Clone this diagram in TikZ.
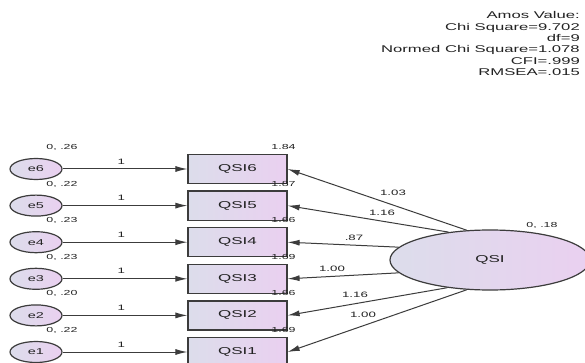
\documentclass[tikz,border=0pt]{standalone}
\usepackage{fontspec}
\usetikzlibrary{shapes.geometric,arrows.meta}
\newfontfamily\wf[FakeStretch=1.7]{Liberation Sans}
\definecolor{edge}{HTML}{3C3C3C}
\definecolor{txt}{HTML}{222222}
\definecolor{fillL}{HTML}{DCDDEB}
\definecolor{fillR}{HTML}{EAD0F0}
\tikzset{
  eell/.style={ellipse, draw=edge, line width=1.2pt, left color=fillL, right color=fillR,
    minimum width=52pt, minimum height=21pt, inner sep=0pt, font=\wf\fontsize{8.5}{9}\selectfont, text=txt},
  obs/.style={rectangle, draw=edge, line width=1.2pt, left color=fillL, right color=fillR,
    minimum width=99pt, minimum height=29pt, inner sep=0pt, font=\wf\fontsize{10}{11}\selectfont, text=txt},
  lat/.style={ellipse, draw=edge, line width=1.2pt, left color=fillL, right color=fillR,
    minimum width=200pt, minimum height=60pt, inner sep=0pt, font=\wf\fontsize{10}{11}\selectfont, text=txt},
  lbl/.style={inner sep=0pt, font=\wf\fontsize{7.3}{8}\selectfont, text=txt},
  albl/.style={inner sep=0pt, font=\wf\fontsize{7.8}{8}\selectfont, text=txt},
  ldarrow/.style={draw=edge, line width=1pt, -{Latex[length=12pt,width=6pt]}},
}
\begin{document}
\begin{tikzpicture}[x=1pt,y=-1pt]
\useasboundingbox (0,0) rectangle (585,363);
\fill[white] (0,0) rectangle (585,363);

% fit info
\node[anchor=north east, inner sep=0pt, align=right, text=txt,
  font=\wf\fontsize{9.8}{11.4}\selectfont] (fit) at (580,11.5)
  {Amos Value:\\Chi Square=9.702\\df=9\\Normed Chi Square=1.078\\CFI=.999\\RMSEA=.015};

% latent
\node[lat] (QSI) at (490,260) {QSI};
\node[lbl] (vQSI) at (542,225) {0, .18};

% observed + errors
\foreach \i/\y/\v/\m in {6/169/.26/1.84, 5/205.6/.22/1.87, 4/242.2/.23/1.66, 3/278.8/.23/1.69, 2/315.4/.20/1.66, 1/352/.22/1.69}{
  \node[obs] (QSI\i) at (237.5,\y) {QSI\i};
  \node[eell] (e\i) at (36,\y) {e\i};
  \node[lbl] (ve\i) at (62,\y-21.5) {0, \v};
  \node[lbl] (m\i) at (283.5,\y-22) {\m};
  \draw[ldarrow] (e\i.east) -- node[albl, pos=0.47, yshift=7.5pt] (one\i) {1} (QSI\i.west);
}

% loadings
\draw[ldarrow] (QSI.128.4) -- (QSI6.east);
\draw[ldarrow] (QSI.146.9) -- (QSI5.east);
\draw[ldarrow] (QSI.172.2) -- (QSI4.east);
\draw[ldarrow] (QSI.188) -- (QSI3.east);
\draw[ldarrow] (QSI.213.1) -- (QSI2.east);
\draw[ldarrow] (QSI.232.5) -- (QSI1.east);

\node[albl] (l6) at (393,193) {1.03};
\node[albl] (l5) at (382,213) {1.16};
\node[albl] (l4) at (354,238) {.87};
\node[albl] (l3) at (332,269) {1.00};
\node[albl] (l2) at (355,295) {1.16};
\node[albl] (l1) at (363,315) {1.00};
\end{tikzpicture}
\end{document}
